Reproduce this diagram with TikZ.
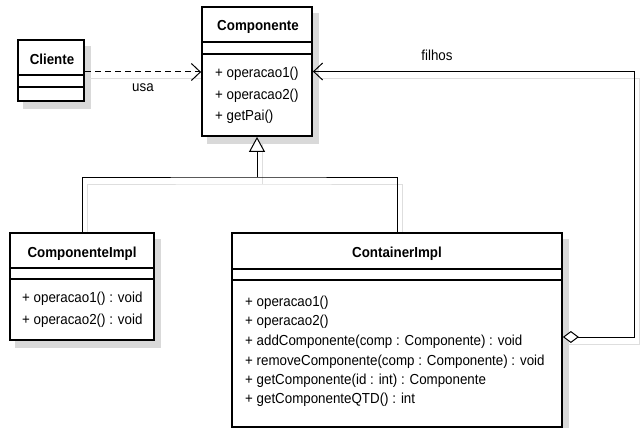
\documentclass[tikz,border=0pt]{standalone}
\usepackage{fontspec}
\setmainfont[FakeStretch=0.92]{Liberation Sans}
\usetikzlibrary{arrows.meta,calc,backgrounds}
\begin{document}
\begin{tikzpicture}[x=1pt,y=-1pt,
  font=\fontsize{14.5}{17}\selectfont,
  classbox/.style={draw=black, line width=1.8pt, fill=white, inner sep=0pt},
  sep/.style={draw=black, line width=1.2pt},
  cname/.style={font=\fontsize{14.5}{17}\selectfont\bfseries, inner sep=0pt},
  member/.style={anchor=west, inner sep=0pt},
  shadowbox/.style={fill=black!15},
  conn/.style={draw=black, line width=1pt},
  shconn/.style={draw=black!13, line width=1pt},
  openhead/.style={-{Straight Barb[length=9pt,width=17pt,line width=1pt]}},
  inhhead/.style={-{Triangle[open,length=15pt,width=16pt,fill=white]}},
  aggrtail/.style={{Diamond[open,length=16pt,width=12pt,fill=white]}-{Straight Barb[length=9pt,width=17pt,line width=1pt]}}
]
\useasboundingbox (0,0) rectangle (643,428);

% class boxes
\node[classbox, minimum width=66pt, minimum height=61pt] (cli) at (51,70.5) {};
\node[classbox, minimum width=110pt, minimum height=129pt] (comp) at (257,71.5) {};
\node[classbox, minimum width=144pt, minimum height=107pt] (impl) at (82,286.5) {};
\node[classbox, minimum width=330pt, minimum height=194pt] (cont) at (397,330) {};

% Cliente
\draw[sep] (cli.west |- 0,75) -- (cli.east |- 0,75);
\draw[sep] (cli.west |- 0,87) -- (cli.east |- 0,87);
\node[cname] (cli-name) at (52,59) {Cliente};

% Componente
\draw[sep] (comp.west |- 0,42) -- (comp.east |- 0,42);
\draw[sep] (comp.west |- 0,54) -- (comp.east |- 0,54);
\node[cname] (comp-name) at (258,27) {Componente};
\node[member] (comp-m1) at (215,74) {+ operacao1()};
\node[member] (comp-m2) at (215,96) {+ operacao2()};
\node[member] (comp-m3) at (215,117) {+ getPai()};

% ComponenteImpl
\draw[sep] (impl.west |- 0,268) -- (impl.east |- 0,268);
\draw[sep] (impl.west |- 0,279) -- (impl.east |- 0,279);
\node[cname] (impl-name) at (82,254) {ComponenteImpl};
\node[member] (impl-m1) at (22,299) {+ operacao1() : void};
\node[member] (impl-m2) at (22,321) {+ operacao2() : void};

% ContainerImpl
\draw[sep] (cont.west |- 0,269) -- (cont.east |- 0,269);
\draw[sep] (cont.west |- 0,280) -- (cont.east |- 0,280);
\node[cname] (cont-name) at (397,254) {ContainerImpl};
\node[member] (cont-m1) at (245,303) {+ operacao1()};
\node[member] (cont-m2) at (245,322) {+ operacao2()};
\node[member] (cont-m3) at (245,342) {+ addComponente(comp : Componente) : void};
\node[member] (cont-m4) at (245,362) {+ removeComponente(comp : Componente) : void};
\node[member] (cont-m5) at (245,381) {+ getComponente(id : int) : Componente};
\node[member] (cont-m6) at (245,400) {+ getComponenteQTD() : int};

% connectors
\coordinate (j) at (257,177);
\draw[conn, dash pattern=on 6pt off 4pt, openhead] ([yshift=-1.5pt]cli.east) -- ([yshift=-1.5pt]cli.east -| comp.west);
\node[inner sep=0pt] (usa) at (143,88) {usa};
\draw[conn] (impl.north) |- (j) -| (cont.north);
\draw[conn, inhhead] (j) -- (comp.south);
\draw[conn, aggrtail] ([yshift=-7pt]cont.east) -- ++(72,0) |- (comp.east);
\node[inner sep=0pt] (filhos) at (437,55) {filhos};

% shadows
\begin{scope}[on background layer]
  \foreach \b in {cli,comp,impl,cont}
    \fill[shadowbox] ($(\b.north west)+(6,7)$) rectangle ($(\b.south east)+(6,7)$);
  \begin{scope}[transform canvas={shift={(5pt,-7pt)}}]
    \draw[shconn] ([yshift=-1.5pt]cli.east) -- ([yshift=-1.5pt]cli.east -| comp.west);
    \draw[shconn] (impl.north) |- (j) -| (cont.north);
    \draw[shconn] (j) -- (comp.south);
    \draw[shconn] ([yshift=-7pt]cont.east) -- ++(72,0) |- (comp.east);
  \end{scope}
\end{scope}
\end{tikzpicture}
\end{document}
